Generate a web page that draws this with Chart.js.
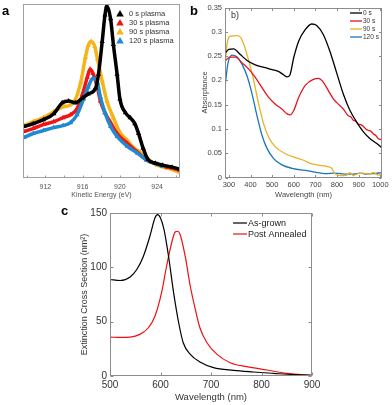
<!DOCTYPE html>
<html>
<head>
<meta charset="utf-8">
<script src="https://cdn.jsdelivr.net/npm/chart.js@4.4.1/dist/chart.umd.min.js"></script>
<style>
  body { margin: 0; background: #fff; width: 392px; height: 405px; position: relative; overflow: hidden; font-family: "Liberation Sans", Arial, sans-serif; }
  canvas { position: absolute; }
  .tag { position: absolute; line-height: 1; font-size: 13px; font-weight: bold; color: #000; }
</style>
</head>
<body>
<canvas id="chartA" width="192" height="200" style="left:0;top:0"></canvas>
<canvas id="chartB" width="196" height="205" style="left:196px;top:0"></canvas>
<canvas id="chartC" width="270" height="200" style="left:60px;top:204px"></canvas>
<div class="tag" style="left:2px;top:4px">a</div>
<div class="tag" style="left:190px;top:4px">b</div>
<div class="tag" style="left:61px;top:204px">c</div>
<div style="position:absolute;left:231px;top:11px;font-size:9px;line-height:1;color:#333">b)</div>
<script>
// ---- panel a : Auger spectra (arbitrary intensity)
const energy0 = [909.7, 910.7, 911.8, 912.9, 913.8, 914.5, 915.2, 916.0, 916.6, 917.4, 917.7, 918.1, 918.4, 918.6, 919.0, 919.3, 919.7, 920.0, 920.6, 921.1, 921.6, 922.0, 922.5, 923.0, 923.8, 924.6, 925.6, 926.4];
const counts0 = [52, 55, 59, 65, 76, 78, 76, 81, 85, 91, 105, 138, 165, 174, 161, 135, 105, 80, 66, 61, 55, 45, 30, 19, 15, 13, 11, 9];
const energy30 = [909.7, 910.7, 911.8, 912.9, 913.9, 914.7, 915.4, 916.0, 916.5, 916.8, 917.1, 917.6, 917.9, 918.4, 919.0, 919.7, 920.8, 921.9, 922.9, 924.0, 925.1, 926.4];
const counts30 = [47, 50, 54, 57, 61, 64, 70, 85, 102, 110, 106, 91, 78, 66, 56, 45, 35, 26, 18, 14, 11, 8];
const energy90 = [909.7, 910.7, 911.8, 912.9, 913.9, 914.7, 915.2, 915.8, 916.3, 916.6, 916.9, 917.3, 917.6, 918.1, 918.6, 919.3, 920.0, 920.8, 921.4, 922.2, 922.9, 924.0, 925.1, 926.4];
const counts90 = [53, 57, 61, 67, 72, 74, 79, 97, 122, 134, 138, 133, 120, 98, 78, 61, 46, 38, 31, 26, 20, 13, 10, 6];
const energy120 = [909.7, 910.7, 911.8, 912.9, 913.9, 914.7, 915.4, 916.1, 916.6, 917.1, 917.6, 917.9, 918.4, 919.0, 919.7, 920.8, 921.9, 922.9, 924.0, 924.6];
const counts120 = [41, 45, 48, 51, 53, 56, 64, 80, 92, 101, 96, 82, 66, 52, 42, 32, 25, 18, 14, 12];
const energyTicks = [910, 912, 914, 916, 918, 920, 922, 924, 926];
const energyLabels = [912, 916, 920, 924];

// ---- panel b : absorptance
const wl0 = [282, 299, 322, 353, 384, 422, 469, 500, 531, 554, 569, 582, 600, 623, 652, 683, 706, 737, 767, 798, 829, 860, 891, 922, 953, 984, 1005];
const abs0 = [0.255, 0.264, 0.265, 0.253, 0.241, 0.232, 0.226, 0.222, 0.218, 0.211, 0.207, 0.211, 0.247, 0.281, 0.304, 0.316, 0.313, 0.294, 0.26, 0.216, 0.172, 0.138, 0.114, 0.094, 0.08, 0.07, 0.062];
const wl30 = [282, 307, 330, 361, 392, 422, 453, 484, 515, 545, 569, 584, 600, 623, 654, 691, 714, 737, 760, 783, 806, 829, 852, 864, 875, 887, 898, 910, 922, 933, 945, 957, 968, 980, 991, 1005];
const abs30 = [0.24, 0.248, 0.248, 0.236, 0.223, 0.206, 0.185, 0.165, 0.151, 0.141, 0.131, 0.129, 0.138, 0.165, 0.19, 0.202, 0.204, 0.196, 0.179, 0.162, 0.151, 0.141, 0.127, 0.125, 0.118, 0.116, 0.11, 0.109, 0.105, 0.1, 0.097, 0.095, 0.09, 0.086, 0.08, 0.078];
const wl90 = [282, 291, 307, 338, 353, 369, 392, 415, 438, 461, 484, 515, 561, 607, 654, 675, 721, 752, 775, 790, 814, 845, 860, 875, 898, 922, 945, 968, 991, 1005];
const abs90 = [0.226, 0.274, 0.291, 0.292, 0.289, 0.274, 0.24, 0.199, 0.151, 0.11, 0.083, 0.063, 0.049, 0.041, 0.034, 0.029, 0.025, 0.023, 0.019, 0.008, 0.004, 0.005, 0.01, 0.004, 0.008, 0.009, 0.007, 0.01, 0.005, 0.008];
const wl120 = [282, 296, 315, 338, 361, 384, 407, 430, 453, 476, 507, 545, 592, 662, 752, 783, 814, 845, 875, 906, 937, 968, 1005];
const abs120 = [0.187, 0.236, 0.252, 0.248, 0.233, 0.209, 0.172, 0.127, 0.087, 0.06, 0.039, 0.026, 0.019, 0.014, 0.008, 0.009, 0.008, 0.007, 0.007, 0.009, 0.007, 0.008, 0.01];
const wlTicksB = [300, 400, 500, 600, 700, 800, 900, 1000];
const absTicks = [0, 0.05, 0.1, 0.15, 0.2, 0.25, 0.3, 0.35];

// ---- panel c : extinction cross section
const wlGrown = [500, 520, 540, 553, 566, 579, 589, 594, 600, 607, 616, 626, 636, 645, 659, 678, 705, 745, 784, 824, 864, 900];
const extGrown = [88.8, 87.9, 91.2, 98, 110, 128.6, 145.4, 148.5, 145.4, 134.7, 110, 76.5, 49, 30.6, 19.9, 12.9, 7.7, 5.2, 3.7, 2.4, 1.2, 0.6];
const wlAnneal = [500, 520, 540, 559, 576, 589, 602, 612, 622, 629, 634, 639, 649, 659, 669, 678, 692, 712, 738, 771, 811, 850, 900];
const extAnneal = [35.8, 35.5, 35.8, 38.3, 44.4, 55, 76.5, 101, 122.4, 132.5, 133.2, 130, 110, 82.6, 61.2, 44.4, 30.6, 19.9, 12.2, 8.6, 5.5, 2.4, 0.6];
const wlTicksC = [500, 600, 700, 800, 900];
const extTicks = [0, 50, 100, 150];

const F = '"Liberation Sans", Arial, sans-serif';
const pts = (xs, ys) => xs.map((x, i) => ({x: x, y: ys[i]}));
const noGrid = { display: false, drawTicks: false };

// box round the plot area with inward ticks (matlab style)
const frame = {
    id: 'frame',
    afterDatasetsDraw(chart, args, o) {
        const {ctx, chartArea: a} = chart;
        const L = Math.round(a.left) + 0.5, R = Math.round(a.right) - 0.5;
        const T = Math.round(a.top) + 0.5, B = Math.round(a.bottom) - 0.5;
        ctx.save();
        ctx.strokeStyle = o.color;
        ctx.lineWidth = 1;
        ctx.strokeRect(L, T, R - L, B - T);
        ctx.beginPath();
        chart.scales.x.ticks.forEach(t => {
            const p = Math.round(chart.scales.x.getPixelForValue(t.value)) + 0.5;
            ctx.moveTo(p, B); ctx.lineTo(p, B - o.len);
            if (o.mirror) { ctx.moveTo(p, T); ctx.lineTo(p, T + o.len); }
        });
        if (o.yTicks) {
            chart.scales.y.ticks.forEach(t => {
                const p = Math.round(chart.scales.y.getPixelForValue(t.value)) + 0.5;
                ctx.moveTo(L, p); ctx.lineTo(L + o.len, p);
                if (o.mirror) { ctx.moveTo(R, p); ctx.lineTo(R - o.len, p); }
            });
        }
        ctx.stroke();
        ctx.restore();
    }
};

// legend drawn inside the plot
const keyBox = {
    id: 'keyBox',
    afterDraw(chart, args, o) {
        const ctx = chart.ctx;
        ctx.save();
        ctx.font = o.font;
        ctx.textBaseline = 'middle';
        ctx.textAlign = 'left';
        chart.data.datasets.forEach((ds, i) => {
            const y = o.y + i * o.step;
            ctx.fillStyle = ds.borderColor;
            ctx.strokeStyle = ds.borderColor;
            if (o.marker === 'triangle') {
                ctx.beginPath();
                ctx.moveTo(o.x, y - 3.5);
                ctx.lineTo(o.x + 3.8, y + 3);
                ctx.lineTo(o.x - 3.8, y + 3);
                ctx.closePath();
                ctx.fill();
            } else {
                ctx.lineWidth = ds.borderWidth;
                ctx.beginPath();
                ctx.moveTo(o.x, y); ctx.lineTo(o.x + o.len, y);
                ctx.stroke();
            }
            ctx.fillStyle = o.color;
            ctx.fillText(ds.label, o.textX, y + 0.5);
        });
        ctx.restore();
    }
};

const base = { animation: false, responsive: false, devicePixelRatio: 1 };
const flat = { maxRotation: 0, minRotation: 0, autoSkip: false };

// panel a
const spec = (label, xs, ys, color, order) => ({
    label: label, data: pts(xs, ys), borderColor: color, backgroundColor: color,
    borderWidth: 3.5, pointStyle: 'triangle', pointRadius: 3, pointBorderWidth: 0,
    tension: 0.3, cubicInterpolationMode: 'monotone', order: order
});
new Chart(document.getElementById('chartA'), {
    type: 'line',
    data: { datasets: [
        spec('0 s plasma', energy0, counts0, '#000000', 0),
        spec('30 s plasma', energy30, counts30, '#f01616', 2),
        spec('90 s plasma', energy90, counts90, '#f6b419', 3),
        spec('120 s plasma', energy120, counts120, '#1f8ad2', 1)
    ]},
    options: Object.assign({}, base, {
        layout: { padding: { top: 2, right: 12, left: 0, bottom: 0 } },
        scales: {
            x: {
                type: 'linear', min: 909.6, max: 926.45,
                afterBuildTicks: s => { s.ticks = energyTicks.map(v => ({value: v})); },
                afterFit: s => { s.height = 22; },
                grid: noGrid, border: { display: false },
                ticks: Object.assign({ padding: 5, color: '#555', font: { size: 7, family: F },
                         callback: v => energyLabels.includes(v) ? String(v) : '' }, flat),
                title: { display: true, text: 'Kinetic Energy (eV)', color: '#555',
                         font: { size: 7, family: F }, padding: { top: 0, bottom: 0.5 } }
            },
            y: {
                min: 0, max: 176,
                afterFit: s => { s.width = 23; },
                ticks: { display: false }, grid: noGrid, border: { display: false }
            }
        },
        plugins: {
            legend: { display: false }, tooltip: { enabled: false },
            frame: { color: '#a0a0a0', len: 2, mirror: false, yTicks: false },
            keyBox: { marker: 'triangle', x: 120, textX: 129, y: 13.5, step: 9, font: '7.5px ' + F, color: '#333' }
        }
    }),
    plugins: [frame, keyBox]
});

// panel b
const absLine = (label, xs, ys, color) => ({
    label: label, data: pts(xs, ys), borderColor: color, backgroundColor: color,
    borderWidth: 1.3, pointRadius: 0, tension: 0.3, cubicInterpolationMode: 'monotone'
});
new Chart(document.getElementById('chartB'), {
    type: 'line',
    data: { datasets: [
        absLine('0 s', wl0, abs0, '#000000'),
        absLine('30 s', wl30, abs30, '#e8141c'),
        absLine('90 s', wl90, abs90, '#e9b124'),
        absLine('120 s', wl120, abs120, '#1a75bb')
    ]},
    options: Object.assign({}, base, {
        layout: { padding: { top: 6, right: 10, left: 0, bottom: 0 } },
        scales: {
            x: {
                type: 'linear', min: 282, max: 1008,
                afterBuildTicks: s => { s.ticks = wlTicksB.map(v => ({value: v})); },
                afterFit: s => { s.height = 27.5; },
                grid: noGrid, border: { display: false },
                ticks: Object.assign({ padding: 2.5, color: '#444', font: { size: 7.5, family: F }, callback: v => String(v) }, flat),
                title: { display: true, text: 'Wavelength (nm)', color: '#444',
                         font: { size: 7.5, family: F }, padding: { top: 0, bottom: 6 } }
            },
            y: {
                min: 0, max: 0.35,
                afterBuildTicks: s => { s.ticks = absTicks.map(v => ({value: v})); },
                afterFit: s => { s.width = 29; },
                grid: noGrid, border: { display: false },
                ticks: Object.assign({ padding: 3, color: '#444', font: { size: 7.5, family: F }, callback: v => String(v) }, flat),
                title: { display: true, text: 'Absorptance', color: '#444',
                         font: { size: 7.5, family: F }, padding: { top: 4.5, bottom: 0 } }
            }
        },
        plugins: {
            legend: { display: false }, tooltip: { enabled: false },
            frame: { color: '#8c8c8c', len: 2.5, mirror: true, yTicks: true },
            keyBox: { marker: 'line', x: 154, len: 12, textX: 167, y: 13, step: 8, font: '6.5px ' + F, color: '#333' }
        }
    }),
    plugins: [frame, keyBox]
});

// panel c
const extLine = (label, xs, ys, color) => ({
    label: label, data: pts(xs, ys), borderColor: color, backgroundColor: color,
    borderWidth: 1.2, pointRadius: 0, tension: 0.3, cubicInterpolationMode: 'monotone'
});
new Chart(document.getElementById('chartC'), {
    type: 'line',
    data: { datasets: [
        extLine('As-grown', wlGrown, extGrown, '#000000'),
        extLine('Post Annealed', wlAnneal, extAnneal, '#ee1111')
    ]},
    options: Object.assign({}, base, {
        layout: { padding: { top: 9, right: 18, left: 0, bottom: 0 } },
        scales: {
            x: {
                type: 'linear', min: 500, max: 900,
                afterBuildTicks: s => { s.ticks = wlTicksC.map(v => ({value: v})); },
                afterFit: s => { s.height = 28; },
                grid: noGrid, border: { display: false },
                ticks: Object.assign({ padding: 3.5, color: '#333', font: { size: 10, family: F }, callback: v => String(v) }, flat),
                title: { display: true, text: 'Wavelength (nm)', color: '#333',
                         font: { size: 9.5, family: F }, padding: { top: 0, bottom: 1 } }
            },
            y: {
                min: 0, max: 150,
                afterBuildTicks: s => { s.ticks = extTicks.map(v => ({value: v})); },
                afterFit: s => { s.width = 50; },
                grid: noGrid, border: { display: false },
                ticks: Object.assign({ padding: 3, color: '#333', font: { size: 10, family: F }, callback: v => String(v) }, flat),
                title: { display: true, text: 'Extinction Cross Section (nm\u00b2)', color: '#333',
                         font: { size: 9, family: F }, padding: { top: 19.5, bottom: 0 } }
            }
        },
        plugins: {
            legend: { display: false }, tooltip: { enabled: false },
            frame: { color: '#8c8c8c', len: 3, mirror: true, yTicks: true },
            keyBox: { marker: 'line', x: 173, len: 14, textX: 188, y: 19, step: 11, font: '9px ' + F, color: '#222' }
        }
    }),
    plugins: [frame, keyBox]
});
</script>
</body>
</html>
